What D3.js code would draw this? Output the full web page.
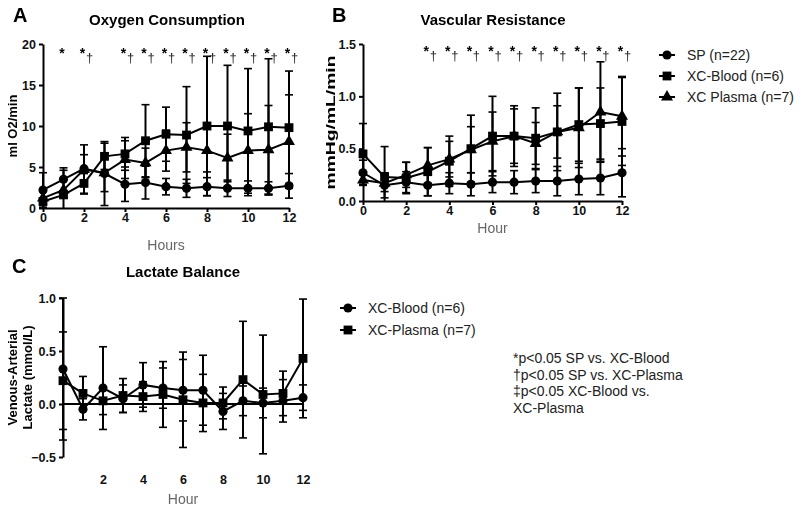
<!DOCTYPE html>
<html>
<head>
<meta charset="utf-8">
<script src="https://cdn.jsdelivr.net/npm/d3@7"></script>
<style>
  body { margin: 0; background: #fff; }
  svg { display: block; font-family: "Liberation Sans", Arial, sans-serif; }
  .tick text { font-weight: bold; font-size: 12.5px; fill: #111; }
  .tick line, .domain { stroke: #000; stroke-width: 2px; }
  .marks { opacity: 0.99; will-change: transform; }
</style>
</head>
<body>
<svg id="chart" width="800" height="508"></svg>
<script>
const hours = [0, 1, 2, 3, 4, 5, 6, 7, 8, 9, 10, 11, 12];

// A - oxygen consumption (ml O2/min), mean and SD
const o2SP         = [2.2, 3.5, 4.8, 4.2, 2.9, 3.1, 2.6, 2.4, 2.6, 2.4, 2.4, 2.4, 2.7];
const o2SPErr      = [2.1, 1.4, 1.7, 3.9, 2.1, 2.0, 1.0, 1.1, 1.1, 1.0, 0.9, 0.8, 1.5];
const o2Blood      = [0.8, 1.6, 3.0, 6.3, 6.6, 8.2, 9.0, 8.9, 10.0, 10.0, 9.4, 9.9, 9.8];
const o2BloodErr   = [0.4, 0.4, 1.2, 1.6, 2.0, 4.4, 3.3, 5.9, 8.5, 7.4, 7.6, 8.3, 6.9];
const o2Plasma     = [1.2, 2.2, 4.7, 4.3, 5.9, 5.5, 7.0, 7.4, 7.0, 6.1, 7.0, 7.1, 8.1];
const o2PlasmaErr  = [0.8, 2.4, 3.0, 2.3, 2.3, 1.8, 2.5, 3.0, 2.6, 2.9, 4.5, 5.4, 5.7];
const o2Stars      = [1, 2, 4, 5, 6, 7, 8, 9, 10, 11, 12];
const o2Daggers    = [2, 4, 5, 6, 7, 8, 9, 10, 11, 12];

// B - vascular resistance (mmHg/mL/min)
const vrSP         = [0.27, 0.15, 0.18, 0.15, 0.17, 0.16, 0.18, 0.18, 0.19, 0.19, 0.21, 0.22, 0.27];
const vrSPErr      = [0.12, 0.12, 0.10, 0.10, 0.10, 0.11, 0.10, 0.11, 0.11, 0.14, 0.15, 0.16, 0.23];
const vrBlood      = [0.45, 0.23, 0.22, 0.28, 0.38, 0.50, 0.62, 0.62, 0.60, 0.66, 0.73, 0.74, 0.76];
const vrBloodErr   = [0.29, 0.29, 0.15, 0.23, 0.24, 0.32, 0.38, 0.29, 0.29, 0.37, 0.35, 0.34, 0.42];
const vrPlasma     = [0.20, 0.17, 0.25, 0.34, 0.40, 0.49, 0.57, 0.62, 0.55, 0.66, 0.70, 0.85, 0.81];
const vrPlasmaErr  = [0.05, 0.08, 0.12, 0.17, 0.17, 0.22, 0.28, 0.26, 0.20, 0.25, 0.38, 0.48, 0.38];
const vrStars      = [3, 4, 5, 6, 7, 8, 9, 10, 11, 12];
const vrDaggers    = [3, 4, 5, 6, 7, 8, 9, 10, 11, 12];

// C - lactate balance (venous-arterial, mmol/L)
const lacBlood     = [0.33, -0.05, 0.15, 0.05, 0.18, 0.15, 0.13, 0.13, -0.07, 0.03, 0.01, 0.03, 0.06];
const lacBloodErr  = [0.67, 0.10, 0.39, 0.13, 0.21, 0.19, 0.29, 0.33, 0.17, 0.14, 0.14, 0.20, 0.12];
const lacPlasma    = [0.22, 0.10, 0.03, 0.08, 0.07, 0.09, 0.04, 0.01, 0.01, 0.23, 0.09, 0.10, 0.43];
const lacPlasmaErr = [0.46, 0.16, 0.13, 0.16, 0.14, 0.31, 0.45, 0.27, 0.15, 0.55, 0.56, 0.21, 0.56];

const footnotes = [
  '*p<0.05 SP vs. XC-Blood',
  '\u2020p<0.05 SP vs. XC-Plasma',
  '\u2021p<0.05 XC-Blood vs.',
  'XC-Plasma'
];

const svg = d3.select('#chart');
const symbolOf = { circle: d3.symbolCircle, square: d3.symbolSquare, triangle: d3.symbolTriangle };
const symbolSize = { circle: 66, square: 78, triangle: 62 };

function marker(sel, kind) {
  sel.append('path')
    .attr('d', d3.symbol().type(symbolOf[kind]).size(symbolSize[kind]))
    .attr('fill', '#000');
}

function drawPanel(p) {
  const g = svg.append('g');
  const x = d3.scaleLinear().domain([0, 12]).range(p.xRange);
  const y = d3.scaleLinear().domain(p.yDomain).range(p.yRange);

  // x axis
  if (p.zeroLine) {
    g.append('line')
      .attr('x1', x(0)).attr('x2', x(12))
      .attr('y1', y(0)).attr('y2', y(0))
      .attr('stroke', '#000').attr('stroke-width', 2);
    const xa = g.append('g')
      .attr('transform', `translate(0,${p.yRange[0]})`)
      .call(d3.axisBottom(x).tickValues(p.xTicks).tickSize(0).tickPadding(18).tickFormat(d3.format('d')));
    xa.select('.domain').remove();
  } else {
    g.append('g')
      .attr('transform', `translate(0,${p.yRange[0]})`)
      .call(d3.axisBottom(x).tickValues(p.xTicks).tickSize(4).tickSizeOuter(0).tickPadding(1).tickFormat(d3.format('d')));
  }

  // y axis
  g.append('g')
    .attr('transform', `translate(${p.xRange[0]},0)`)
    .call(d3.axisLeft(y).tickValues(p.yTicks).tickSize(4).tickSizeOuter(0).tickPadding(3).tickFormat(p.yFormat));

  // series
  p.series.forEach(s => {
    const pts = hours.map((h, i) => ({ h, m: s.mean[i], e: s.err[i] }));
    g.append('path')
      .datum(pts)
      .attr('fill', 'none').attr('stroke', '#000').attr('stroke-width', 2)
      .attr('d', d3.line().x(d => x(d.h)).y(d => y(d.m)));

    const [lo, hi] = p.yDomain;
    const eb = g.append('g').selectAll('g').data(pts).join('g');
    eb.append('line')
      .attr('x1', d => x(d.h)).attr('x2', d => x(d.h))
      .attr('y1', d => y(Math.max(lo, d.m - d.e)))
      .attr('y2', d => y(Math.min(hi, d.m + d.e)))
      .attr('stroke', '#000').attr('stroke-width', 2);
    eb.filter(d => d.m + d.e <= hi).append('line')
      .attr('x1', d => x(d.h) - 4).attr('x2', d => x(d.h) + 4)
      .attr('y1', d => y(d.m + d.e)).attr('y2', d => y(d.m + d.e))
      .attr('stroke', '#000').attr('stroke-width', 1.6);
    eb.filter(d => d.m - d.e >= lo).append('line')
      .attr('x1', d => x(d.h) - 4).attr('x2', d => x(d.h) + 4)
      .attr('y1', d => y(d.m - d.e)).attr('y2', d => y(d.m - d.e))
      .attr('stroke', '#000').attr('stroke-width', 1.6);

    g.append('g').selectAll('g').data(pts).join('g')
      .attr('transform', d => `translate(${x(d.h)},${y(d.m)})`)
      .each(function () { marker(d3.select(this), s.kind); });
  });

  // significance marks
  if (p.stars) {
    const mk = g.append('g').attr('class', 'marks');
    mk.selectAll('.star').data(p.stars).join('text')
      .attr('class', 'star')
      .attr('x', d => x(d) - 1.5).attr('y', p.starY)
      .attr('text-anchor', 'middle')
      .attr('font-size', 14).attr('font-weight', 'bold')
      .text('*');
    mk.selectAll('.dagger').data(p.daggers).join('text')
      .attr('class', 'dagger')
      .attr('x', d => x(d) + 5.5).attr('y', p.starY + 4)
      .attr('text-anchor', 'middle')
      .attr('font-size', 13).attr('fill', '#222')
      .text('\u2020');
  }

  // titles
  g.append('text')
    .attr('x', p.letterX).attr('y', p.letterY)
    .attr('font-size', 20).attr('font-weight', 'bold')
    .text(p.letter);
  g.append('text')
    .attr('x', p.titleX).attr('y', p.titleY)
    .attr('text-anchor', 'middle')
    .attr('font-size', 15).attr('font-weight', 'bold')
    .text(p.title);
  g.append('text')
    .attr('x', (p.xRange[0] + p.xRange[1]) / 2).attr('y', p.xLabelY)
    .attr('text-anchor', 'middle')
    .attr('font-size', 14).attr('fill', '#666')
    .text(p.xLabel);

  const yMid = (p.yRange[0] + p.yRange[1]) / 2;
  p.yLabel.forEach((line, i) => {
    const t = g.append('text')
      .attr('transform', `translate(${p.yLabelX[i]},${yMid}) rotate(-90)`)
      .attr('text-anchor', 'middle')
      .attr('font-size', 13).attr('font-weight', 'bold')
      .text(line);
    if (p.yLabelLen) t.attr('textLength', p.yLabelLen).attr('lengthAdjust', 'spacingAndGlyphs');
  });
}

function drawLegend(x0, rows) {
  const g = svg.append('g');
  rows.forEach(r => {
    const row = g.append('g').attr('transform', `translate(${x0},${r.y})`);
    row.append('line').attr('x1', -8).attr('x2', 8)
      .attr('stroke', '#000').attr('stroke-width', 2);
    marker(row, r.kind);
    row.append('text')
      .attr('x', 20).attr('y', 5)
      .attr('font-size', 14).attr('fill', '#222')
      .text(r.label);
  });
}

drawPanel({
  letter: 'A', letterX: 13, letterY: 22,
  title: 'Oxygen Consumption', titleX: 167, titleY: 25,
  xRange: [43, 289], yRange: [208, 44], yDomain: [0, 20],
  xTicks: [0, 2, 4, 6, 8, 10, 12], yTicks: [0, 5, 10, 15, 20], yFormat: d3.format('d'),
  xLabel: 'Hours', xLabelY: 250,
  yLabel: ['ml O2/min'], yLabelX: [17],
  stars: o2Stars, daggers: o2Daggers, starY: 58,
  series: [
    { mean: o2SP, err: o2SPErr, kind: 'circle' },
    { mean: o2Blood, err: o2BloodErr, kind: 'square' },
    { mean: o2Plasma, err: o2PlasmaErr, kind: 'triangle' }
  ]
});

drawPanel({
  letter: 'B', letterX: 332, letterY: 22,
  title: 'Vascular Resistance', titleX: 493, titleY: 25,
  xRange: [363, 622], yRange: [201, 44], yDomain: [0, 1.5],
  xTicks: [0, 2, 4, 6, 8, 10, 12], yTicks: [0, 0.5, 1.0, 1.5], yFormat: d3.format('.1f'),
  xLabel: 'Hour', xLabelY: 233,
  yLabel: ['mmHg/mL/min'], yLabelX: [335], yLabelLen: 134,
  stars: vrStars, daggers: vrDaggers, starY: 56,
  series: [
    { mean: vrSP, err: vrSPErr, kind: 'circle' },
    { mean: vrBlood, err: vrBloodErr, kind: 'square' },
    { mean: vrPlasma, err: vrPlasmaErr, kind: 'triangle' }
  ]
});

drawPanel({
  letter: 'C', letterX: 12, letterY: 273,
  title: 'Lactate Balance', titleX: 183, titleY: 277,
  xRange: [63, 303], yRange: [457, 298], yDomain: [-0.5, 1.0],
  xTicks: [2, 4, 6, 8, 10, 12], yTicks: [-0.5, 0, 0.5, 1.0], yFormat: d3.format('.1f'),
  zeroLine: true,
  xLabel: 'Hour', xLabelY: 504,
  yLabel: ['Venous-Arterial', 'Lactate  (mmol/L)'], yLabelX: [17, 32],
  series: [
    { mean: lacBlood, err: lacBloodErr, kind: 'circle' },
    { mean: lacPlasma, err: lacPlasmaErr, kind: 'square' }
  ]
});

drawLegend(667, [
  { y: 55, kind: 'circle', label: 'SP (n=22)' },
  { y: 76, kind: 'square', label: 'XC-Blood (n=6)' },
  { y: 97, kind: 'triangle', label: 'XC Plasma (n=7)' }
]);

drawLegend(348, [
  { y: 308, kind: 'circle', label: 'XC-Blood (n=6)' },
  { y: 330, kind: 'square', label: 'XC-Plasma (n=7)' }
]);

svg.append('g').selectAll('text').data(footnotes).join('text')
  .attr('x', 513).attr('y', (d, i) => 363 + i * 16.5)
  .attr('font-size', 14).attr('fill', '#222')
  .text(d => d);
</script>
</body>
</html>
